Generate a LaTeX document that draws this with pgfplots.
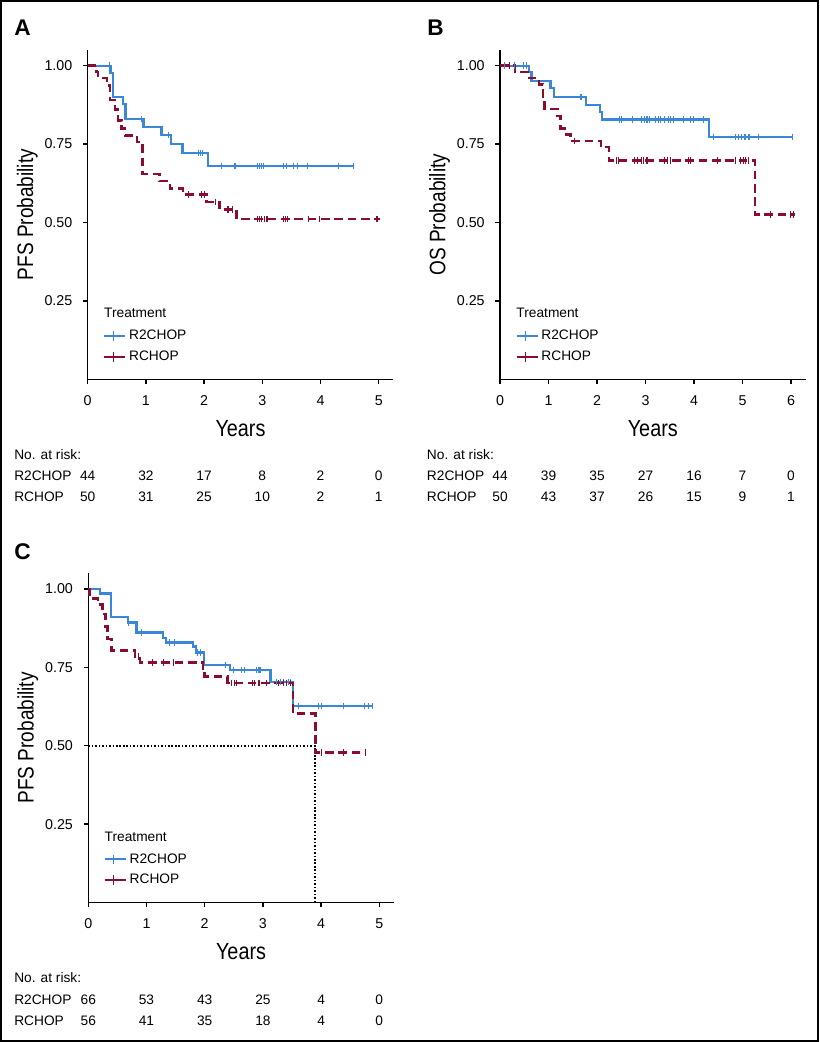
\documentclass[border=0pt]{standalone}
\usepackage{pgfplots}
\pgfplotsset{compat=1.18}
\usepackage{fontspec}
\setmainfont{Liberation Sans}
\newfontfamily\condfont[FakeStretch=0.85]{Liberation Sans}
\definecolor{kmblue}{RGB}{58,135,218}
\definecolor{kmred}{RGB}{140,12,48}

\pgfplotsset{
 km/.style={
  scale only axis, width=229.2pt, height=247pt,
  axis lines=left, axis line style={-, line width=1pt, black},
  xmin=0, ymin=0, ymax=1.05,
  ytick={0.25,0.5,0.75,1}, yticklabels={0.25,0.50,0.75,1.00},
  tick align=outside, major tick length=3.5pt,
  tick style={line width=1pt, black},
  ticklabel style={font=\fontsize{10.7}{12}\selectfont},
  yticklabel style={xshift=-4.5pt},
  xticklabel style={yshift=-5pt},
  /pgf/number format/assume math mode=true,
  xlabel={Years},
  xlabel style={font=\condfont\fontsize{17.5}{20}\selectfont, at={(axis description cs:0.5,0)}, anchor=base, yshift=-42.8pt},
  ylabel style={font=\condfont\fontsize{16.8}{19}\selectfont, at={(axis description cs:-0.179,0.5)}, anchor=base},
  clip=false,
  legend cell align=left,
  legend style={draw=none, fill=none, font=\fontsize{10.3}{12}\selectfont, anchor=north west, at={(axis description cs:0.05,0.158)}, inner sep=0pt, row sep=3pt},
  legend image code/.code={\draw[##1] (0pt,0pt)--(13.5pt,0pt); \draw[##1,line width=0.9pt] (6.75pt,-3.5pt)--(6.75pt,3.5pt); \path (0pt,0pt) -- (15.8pt,0pt);},
 },
 blueline/.style={kmblue, line width=1.7pt, const plot, mark=none, forget plot},
 redline/.style={kmred, line width=1.9pt, const plot, mark=none, dash pattern=on 6.5pt off 3.5pt, forget plot},
 bluecens/.style={kmblue, only marks, mark=|, mark size=2.4pt, mark options={line width=0.8pt}, forget plot},
 redcens/.style={kmred, only marks, mark=|, mark size=2.4pt, mark options={line width=0.8pt}, forget plot},
}

\begin{document}
\begin{tikzpicture}
% frame
\begin{scope}[x=0.75pt,y=-0.75pt]
\draw[line width=1.1pt] (0.8,0.8) rectangle (818.2,1041.2);
\path (0,0) rectangle (819,1042);
\end{scope}

%================ Panel A =================
\begin{axis}[km, at={(65.78pt,-284.48pt)}, anchor=south west,
  xmax=5.25, xtick={0,1,2,3,4,5}, ylabel={PFS Probability}]
\addlegendimage{kmblue, line width=1.6pt}\addlegendentry{R2CHOP}
\addlegendimage{kmred, line width=1.6pt}\addlegendentry{RCHOP}
\addplot[blueline] coordinates {(0,1) (0.39,0.977) (0.44,0.901) (0.61,0.878) (0.65,0.830) (0.96,0.804) (1.27,0.778) (1.43,0.751) (1.63,0.721) (2.07,0.680) (4.57,0.680)};
\addplot[bluecens] coordinates {(0.37,1) (0.92,0.830) (1.39,0.778) (1.90,0.721) (1.93,0.721) (1.98,0.721) (2.30,0.680) (2.53,0.680) (2.91,0.680) (2.95,0.680) (2.98,0.680) (3.02,0.680) (3.36,0.680) (3.41,0.680) (3.53,0.680) (3.61,0.680) (3.77,0.680) (4.31,0.680) (4.57,0.680)};
\addplot[redline] coordinates {(0,1) (0.15,0.98) (0.18,0.96) (0.33,0.937) (0.38,0.89) (0.47,0.86) (0.52,0.825) (0.58,0.80) (0.64,0.778) (0.85,0.756) (0.94,0.654) (1.23,0.633) (1.41,0.608) (1.64,0.589) (2.04,0.566) (2.26,0.541) (2.56,0.511) (5.02,0.511)};
\addplot[redcens] coordinates {(1.73,0.589) (1.96,0.589) (2.00,0.589) (2.20,0.566) (2.41,0.541) (2.49,0.541) (2.91,0.511) (2.95,0.511) (2.99,0.511) (3.03,0.511) (3.08,0.511) (3.36,0.511) (3.40,0.511) (3.43,0.511) (3.79,0.511) (3.99,0.511) (4.97,0.511)};
\node[anchor=west, inner sep=0pt, font=\fontsize{10.3}{12}\selectfont] at (axis description cs:0.053,0.201) {Treatment};
\end{axis}

%================ Panel B =================
\begin{axis}[km, at={(375pt,-284.48pt)}, anchor=south west,
  xmax=6.3, xtick={0,1,2,3,4,5,6}, ylabel={OS Probability}]
\addlegendimage{kmblue, line width=1.6pt}\addlegendentry{R2CHOP}
\addlegendimage{kmred, line width=1.6pt}\addlegendentry{RCHOP}
\addplot[blueline] coordinates {(0,1) (0.60,0.979) (0.65,0.952) (1.04,0.928) (1.11,0.901) (1.77,0.875) (2.06,0.852) (2.11,0.828) (4.31,0.772) (6.03,0.772)};
\addplot[bluecens] coordinates {(0.10,1) (0.30,1) (0.48,1) (0.55,1) (1.67,0.901) (2.47,0.828) (2.51,0.828) (2.73,0.828) (2.92,0.828) (2.97,0.828) (3.03,0.828) (3.09,0.828) (3.20,0.828) (3.26,0.828) (3.31,0.828) (3.40,0.828) (3.47,0.828) (3.52,0.828) (3.57,0.828) (3.78,0.828) (3.92,0.828) (3.99,0.828) (4.19,0.828) (4.41,0.772) (4.85,0.772) (4.91,0.772) (4.98,0.772) (5.05,0.772) (5.12,0.772) (5.15,0.772) (5.33,0.772) (6.03,0.772)};
\addplot[redline] coordinates {(0,1) (0.31,0.98) (0.60,0.96) (0.80,0.94) (0.89,0.90) (0.92,0.862) (1.19,0.84) (1.25,0.80) (1.37,0.78) (1.45,0.76) (2.08,0.74) (2.25,0.698) (5.26,0.525) (6.08,0.525)};
\addplot[redcens] coordinates {(0.20,1) (1.53,0.76) (2.41,0.698) (2.45,0.698) (2.78,0.698) (2.84,0.698) (2.92,0.698) (2.95,0.698) (3.03,0.698) (3.40,0.698) (3.45,0.698) (3.51,0.698) (3.88,0.698) (3.93,0.698) (4.48,0.698) (4.85,0.698) (4.95,0.698) (5.02,0.698) (5.07,0.698) (5.12,0.698) (5.58,0.525) (5.98,0.525) (6.05,0.525)};
\node[anchor=west, inner sep=0pt, font=\fontsize{10.3}{12}\selectfont] at (axis description cs:0.053,0.201) {Treatment};
\end{axis}

%================ Panel C =================
\begin{axis}[km, at={(66.2pt,-676.9pt)}, anchor=south west,
  xmax=5.25, xtick={0,1,2,3,4,5}, ylabel={PFS Probability}]
\addlegendimage{kmblue, line width=1.6pt}\addlegendentry{R2CHOP}
\addlegendimage{kmred, line width=1.6pt}\addlegendentry{RCHOP}
\addplot[black, line width=1.3pt, dash pattern=on 1.2pt off 1.4pt, forget plot] coordinates {(0,0.5) (3.89,0.5) (3.89,0)};
\addplot[blueline] coordinates {(0,1) (0.20,0.985) (0.39,0.91) (0.68,0.893) (0.83,0.861) (1.28,0.843) (1.33,0.829) (1.80,0.816) (1.85,0.797) (1.99,0.758) (2.43,0.742) (3.13,0.704) (3.52,0.627) (4.89,0.627)};
\addplot[bluecens] coordinates {(0.69,0.893) (0.92,0.861) (1.40,0.829) (1.48,0.829) (1.87,0.797) (1.93,0.797) (2.35,0.758) (2.49,0.742) (2.64,0.742) (2.69,0.742) (2.89,0.742) (2.92,0.742) (2.95,0.742) (3.24,0.704) (3.30,0.704) (3.35,0.704) (3.44,0.704) (3.48,0.704) (3.61,0.627) (3.95,0.627) (4.01,0.627) (4.38,0.627) (4.75,0.627) (4.81,0.627) (4.89,0.627)};
\addplot[redline] coordinates {(0,1) (0.02,0.97) (0.17,0.95) (0.24,0.92) (0.30,0.88) (0.33,0.84) (0.40,0.803) (0.80,0.784) (0.89,0.765) (1.97,0.742) (2.00,0.72) (2.39,0.70) (3.52,0.602) (3.90,0.479) (4.77,0.479)};
\addplot[redcens] coordinates {(0.86,0.784) (1.10,0.765) (1.30,0.765) (1.46,0.765) (2.46,0.70) (2.52,0.70) (2.55,0.70) (2.82,0.70) (2.86,0.70) (2.92,0.70) (2.94,0.70) (3.06,0.70) (3.27,0.70) (3.35,0.70) (3.40,0.70) (3.47,0.70) (4.01,0.479) (4.38,0.479) (4.76,0.479)};
\node[anchor=west, inner sep=0pt, font=\fontsize{10.3}{12}\selectfont] at (axis description cs:0.053,0.201) {Treatment};
\end{axis}

%================ Labels and risk tables =================
\begin{scope}[x=0.75pt,y=-0.75pt, every node/.style={font=\fontsize{10.3}{12}\selectfont, inner sep=0pt}]
\node[anchor=west, font=\bfseries\fontsize{17}{20}\selectfont] at (14,28) {A};
\node[anchor=west, font=\bfseries\fontsize{17}{20}\selectfont] at (427,28) {B};
\node[anchor=west, font=\bfseries\fontsize{17}{20}\selectfont] at (14,551.7) {C};
% A
\node[anchor=west] at (14,455) {No. at risk:};
\node[anchor=west] at (14,476) {R2CHOP};
\node[anchor=west] at (14,497) {RCHOP};
\foreach \x/\n in {87.7/44,145.9/32,204.1/17,262.3/8,320.5/2,378.7/0} \node at (\x,476) {\n};
\foreach \x/\n in {87.7/50,145.9/31,204.1/25,262.3/10,320.5/2,378.7/1} \node at (\x,497) {\n};
% B
\node[anchor=west] at (426.7,455) {No. at risk:};
\node[anchor=west] at (426.7,476) {R2CHOP};
\node[anchor=west] at (426.7,497) {RCHOP};
\foreach \x/\n in {500/44,548.5/39,597/35,645.5/27,694/16,742.5/7,791/0} \node at (\x,476) {\n};
\foreach \x/\n in {500/50,548.5/43,597/37,645.5/26,694/15,742.5/9,791/1} \node at (\x,497) {\n};
% C
\node[anchor=west] at (14,978) {No. at risk:};
\node[anchor=west] at (14,999.3) {R2CHOP};
\node[anchor=west] at (14,1021) {RCHOP};
\foreach \x/\n in {88.3/66,146.5/53,204.7/43,262.9/25,321.1/4,379.3/0} \node at (\x,999.3) {\n};
\foreach \x/\n in {88.3/56,146.5/41,204.7/35,262.9/18,321.1/4,379.3/0} \node at (\x,1021) {\n};
\end{scope}
\end{tikzpicture}
\end{document}
